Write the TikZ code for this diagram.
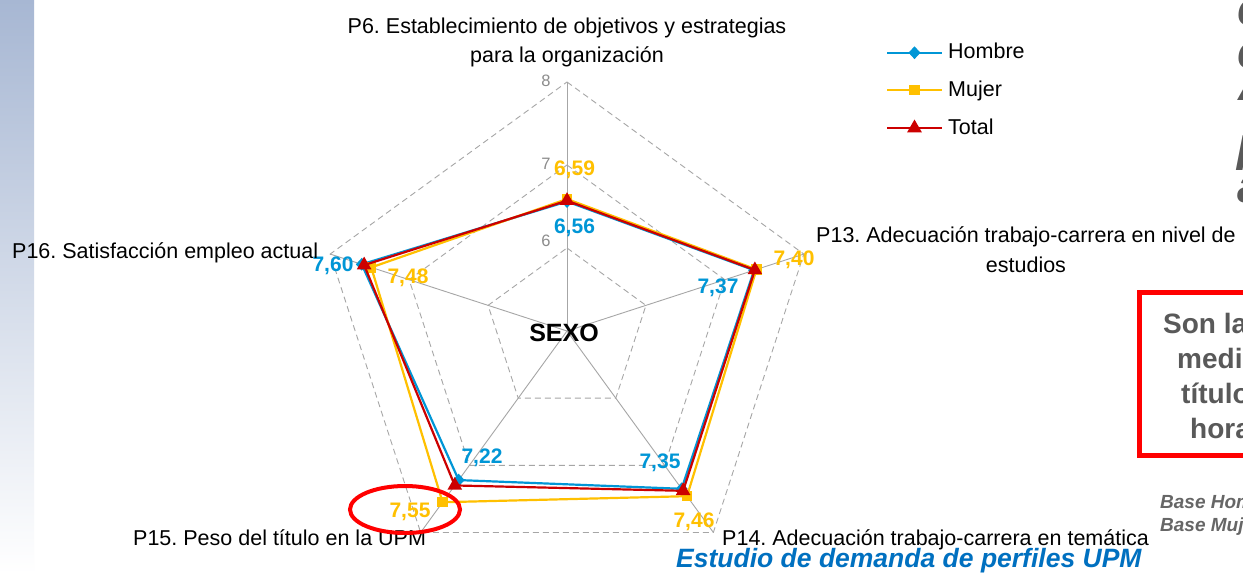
\documentclass[tikz,border=0pt]{standalone}
\usepackage{fontspec}
\setmainfont{Liberation Sans}
\usetikzlibrary{calc,shapes.geometric}
\definecolor{hcol}{HTML}{0096D6}
\definecolor{mcol}{HTML}{FFC000}
\definecolor{tcol}{HTML}{CC0000}
\definecolor{gridcol}{HTML}{A6A6A6}
\definecolor{tickcol}{HTML}{8C8C8C}
\definecolor{sidegray}{HTML}{595959}
\definecolor{basegray}{HTML}{666666}
\definecolor{barblue}{HTML}{A7B7D3}
\definecolor{studycol}{HTML}{0070C0}
\definecolor{boxred}{HTML}{FF0000}
\newcommand\fsz[1]{\fontsize{#1pt}{#1pt}\selectfont}
\frenchspacing
\begin{document}
\begin{tikzpicture}[x=1pt,y=-1pt,
  gridring/.style={draw=gridcol, line width=0.9pt, dash pattern=on 6pt off 4pt},
  axisline/.style={draw=gridcol, line width=0.9pt},
  hline/.style={draw=hcol, line width=2.2pt, line join=round},
  mline/.style={draw=mcol, line width=2.2pt, line join=round},
  tline/.style={draw=tcol, line width=2.2pt, line join=round},
  hmark/.style={diamond, fill=hcol, inner sep=0pt, minimum width=12pt, minimum height=13pt},
  mmark/.style={rectangle, fill=mcol, inner sep=0pt, minimum size=10.5pt},
  tmark/.style={regular polygon, regular polygon sides=3, fill=tcol, inner sep=0pt, minimum size=17pt},
  axislab/.style={font=\fsz{21.5}, inner sep=0pt, text=black},
  hlab/.style={font=\bfseries\fsz{21}, inner sep=0pt, text=hcol},
  mlab/.style={font=\bfseries\fsz{21}, inner sep=0pt, text=mcol},
  ticklab/.style={font=\fsz{16.5}, inner sep=0pt, text=tickcol},
  sidetext/.style={font=\bfseries\itshape\fsz{48}, inner sep=0pt, text=sidegray, anchor=base west},
  boxtext/.style={font=\bfseries\fsz{28}, inner sep=0pt, text=sidegray, anchor=base west},
  basetext/.style={font=\bfseries\itshape\fsz{19}, inner sep=0pt, text=basegray, anchor=base west}
]
\useasboundingbox (0,0) rectangle (1243,574);
\fill[white] (0,0) rectangle (1243,574);
\shade[top color=barblue, bottom color=white] (0,0) rectangle (34,574);

% radar grid
\coordinate (O) at (567,331);
\foreach \k in {1,2,3}{
  \draw[gridring] ($(O)+(90:\k*83pt)$) -- ($(O)+(18:\k*83pt)$) -- ($(O)+(-54:\k*83pt)$)
     -- ($(O)+(-126:\k*83pt)$) -- ($(O)+(162:\k*83pt)$) -- cycle;
}
\foreach \a in {90,18,-54,-126,162}{
  \draw[axisline] (O) -- ($(O)+(\a:249pt)$);
}
\node[ticklab] (t8) at (546,81) {8};
\node[ticklab] (t7) at (546,164) {7};
\node[ticklab] (t6) at (546,241) {6};

% data points
\coordinate (h6)  at ($(O)+(90:129.48pt)$);
\coordinate (h13) at ($(O)+(18:196.71pt)$);
\coordinate (h14) at ($(O)+(-54:195.05pt)$);
\coordinate (h15) at ($(O)+(-126:184.26pt)$);
\coordinate (h16) at ($(O)+(162:215.80pt)$);
\coordinate (m6)  at ($(O)+(90:131.97pt)$);
\coordinate (m13) at ($(O)+(18:199.20pt)$);
\coordinate (m14) at ($(O)+(-54:204.18pt)$);
\coordinate (m15) at ($(O)+(-126:211.65pt)$);
\coordinate (m16) at ($(O)+(162:205.84pt)$);
\coordinate (s6)  at ($(O)+(90:130.31pt)$);
\coordinate (s13) at ($(O)+(18:197.54pt)$);
\coordinate (s14) at ($(O)+(-54:197.54pt)$);
\coordinate (s15) at ($(O)+(-126:190.90pt)$);
\coordinate (s16) at ($(O)+(162:213.31pt)$);

\draw[hline] (h6) -- (h13) -- (h14) -- (h15) -- (h16) -- cycle;
\foreach \p in {h6,h13,h14,h15,h16} \node[hmark] at (\p) {};
\draw[mline] (m6) -- (m13) -- (m14) -- (m15) -- (m16) -- cycle;
\foreach \p in {m6,m13,m14,m15,m16} \node[mmark] at (\p) {};
\draw[tline] (s6) -- (s13) -- (s14) -- (s15) -- (s16) -- cycle;
\foreach \p in {s6,s13,s14,s15,s16} \node[tmark] at (\p) {};

% value labels
\node[mlab] (v659) at (574.5,170) {6,59};
\node[hlab] (v656) at (574.5,227.5) {6,56};
\node[hlab] (v760) at (333,266) {7,60};
\node[mlab] (v748) at (408,278) {7,48};
\node[mlab] (v740) at (794,260) {7,40};
\node[hlab] (v737) at (718,287.5) {7,37};
\node[hlab] (v722) at (482,457.5) {7,22};
\node[hlab] (v735) at (660,463) {7,35};
\node[mlab] (v755) at (410,511.7) {7,55};
\node[mlab] (v746) at (694,521.3) {7,46};

\node[font=\bfseries\fsz{25}, inner sep=0pt] (sexo) at (564,333) {SEXO};

% axis labels
\node[axislab, anchor=base] (p6a) at (567,33) {P6. Establecimiento de objetivos y estrategias};
\node[axislab, anchor=base] (p6b) at (567,62) {para la organización};
\node[axislab, anchor=base west] (p13a) at (816,242) {P13. Adecuación trabajo-carrera en nivel de};
\node[axislab, anchor=base] (p13b) at ($(p13a.base west)!0.5!(p13a.base east)+(0,30)$) {estudios};
\node[axislab, anchor=base west] (p16) at (12,258) {P16. Satisfacción empleo actual};
\node[axislab, anchor=base west] (p15) at (133,545) {P15. Peso del título en la UPM};
\node[axislab, anchor=base west] (p14) at (722,545) {P14. Adecuación trabajo-carrera en temática};

% highlight ellipse
\draw[boxred, line width=4pt] (405,509.5) ellipse [x radius=55, y radius=23.5];

% legend
\coordinate (lhA) at (887,52.7); \coordinate (lhB) at (942,52.7);
\coordinate (lmA) at (887,90);   \coordinate (lmB) at (942,90);
\coordinate (ltA) at (887,128);  \coordinate (ltB) at (942,128);
\draw[hline, line width=2pt] (lhA) -- (lhB);
\node[hmark] (lhM) at ($(lhA)!0.5!(lhB)$) {};
\draw[mline, line width=2pt] (lmA) -- (lmB);
\node[mmark] (lmM) at ($(lmA)!0.5!(lmB)$) {};
\draw[tline, line width=2pt] (ltA) -- (ltB);
\node[tmark] (ltM) at ($(ltA)!0.5!(ltB)$) {};
\node[axislab, anchor=base west] (lhT) at (948,58.3) {Hombre};
\node[axislab, anchor=base west] (lmT) at (948,96.5) {Mujer};
\node[axislab, anchor=base west] (ltT) at (948,134) {Total};

% right-hand fragments of the slide
\node[sidetext] (r1) at (1237,25) {e};
\node[sidetext] (r2) at (1237,68) {e};
\node[sidetext] (r3) at (1238,100) {A};
\node[sidetext] (r4) at (1235,170) {l};
\node[sidetext] (r5) at (1237,202) {á};

\draw[boxred, line width=5pt] (1139,292.5) rectangle (1270,455.5);
\node[boxtext] (b1) at (1163,333) {Son las};
\node[boxtext] (b2) at (1177,368) {medias};
\node[boxtext] (b3) at (1181,403) {título};
\node[boxtext] (b4) at (1190,438) {horas};

\node[basetext] (bh) at (1160,508) {Base Hombre};
\node[basetext] (bm) at (1160,531) {Base Mujer};

\node[font=\bfseries\itshape\fsz{26.5}, inner sep=0pt, text=studycol, anchor=base west] (study) at (676,567) {Estudio de demanda de perfiles UPM};
\end{tikzpicture}
\end{document}
